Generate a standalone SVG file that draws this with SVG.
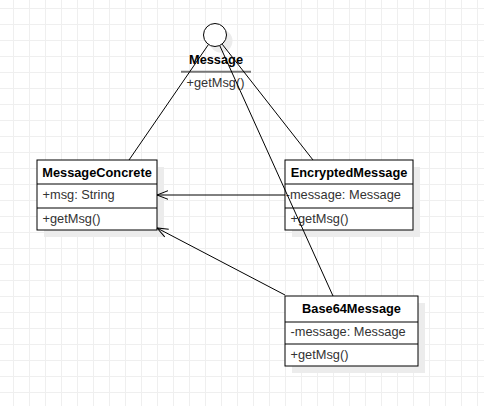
<svg xmlns="http://www.w3.org/2000/svg" width="484" height="406" viewBox="0 0 484 406">
<style>
.box{fill:#fff;stroke:#000;stroke-width:1}
.sh{fill:#ececec;stroke:none}
.sep{stroke:#000;stroke-width:1;fill:none}
.t{font-family:"Liberation Sans",Arial,sans-serif;font-size:12.8px;fill:#000}
.b{font-weight:bold;text-anchor:middle}
.a{fill:#333}
.edge{stroke:#000;stroke-width:1;fill:none}
</style>
<defs>
<pattern id="grid" patternUnits="userSpaceOnUse" x="13" y="8" width="16" height="16">
<path d="M0 0.5H16M0.5 0V16" stroke="#efefef" stroke-width="1" fill="none"/>
</pattern>
<marker id="open" viewBox="0 0 12 10" refX="11.5" refY="5" markerWidth="12" markerHeight="10" markerUnits="userSpaceOnUse" orient="auto">
<path d="M0.5 0.7L11.5 5L0.5 9.3" fill="none" stroke="#000" stroke-width="1"/>
</marker>
</defs>
<rect width="484" height="406" fill="#fff"/>
<rect width="484" height="406" fill="url(#grid)"/>

<g id="Message">
<circle cx="221" cy="41" r="11.5" fill="#ececec"/>
<circle cx="215" cy="35" r="11.5" fill="#fff" stroke="#000" stroke-width="1"/>
<text class="t b" x="216" y="64">Message</text>
<line x1="181" y1="71.7" x2="251" y2="71.7" stroke="#777" stroke-width="2"/>
<text class="t a" x="186.5" y="87.3">+getMsg()</text>
</g>

<g id="MessageConcrete">
<rect class="sh" x="44" y="167" width="120" height="70"/>
<rect class="box" x="37" y="160" width="120" height="70"/>
<path class="sep" d="M37 184H157M37 208H157"/>
<text class="t b" x="97" y="177.3">MessageConcrete</text>
<text class="t a" x="42.5" y="199">+msg: String</text>
<text class="t a" x="42.5" y="223.3">+getMsg()</text>
</g>

<g id="EncryptedMessage">
<rect class="sh" x="292" y="167" width="128" height="70"/>
<rect class="box" x="285" y="160" width="128" height="70"/>
<path class="sep" d="M285 184H413M285 208H413"/>
<text class="t b" x="349" y="177.3">EncryptedMessage</text>
<text class="t a" x="285.7" y="199">-message: Message</text>
<text class="t a" x="290.5" y="223.3">+getMsg()</text>
</g>

<g id="Base64Message">
<rect class="sh" x="292" y="303" width="133" height="70"/>
<rect class="box" x="285" y="296" width="133" height="70"/>
<path class="sep" d="M285 322H418M285 344H418"/>
<text class="t b" x="351.5" y="313.3">Base64Message</text>
<text class="t a" x="290.5" y="335.7">-message: Message</text>
<text class="t a" x="290.5" y="359">+getMsg()</text>
</g>

<g id="connectors">
<line class="edge" x1="208.4" y1="44.6" x2="129" y2="160"/>
<line class="edge" x1="222.2" y1="44.2" x2="313" y2="160"/>
<line class="edge" x1="219.8" y1="45.7" x2="333" y2="296"/>
<line class="edge" x1="285" y1="195" x2="157" y2="195" marker-end="url(#open)"/>
<line class="edge" x1="285" y1="295" x2="157" y2="228" marker-end="url(#open)"/>
</g>
</svg>
